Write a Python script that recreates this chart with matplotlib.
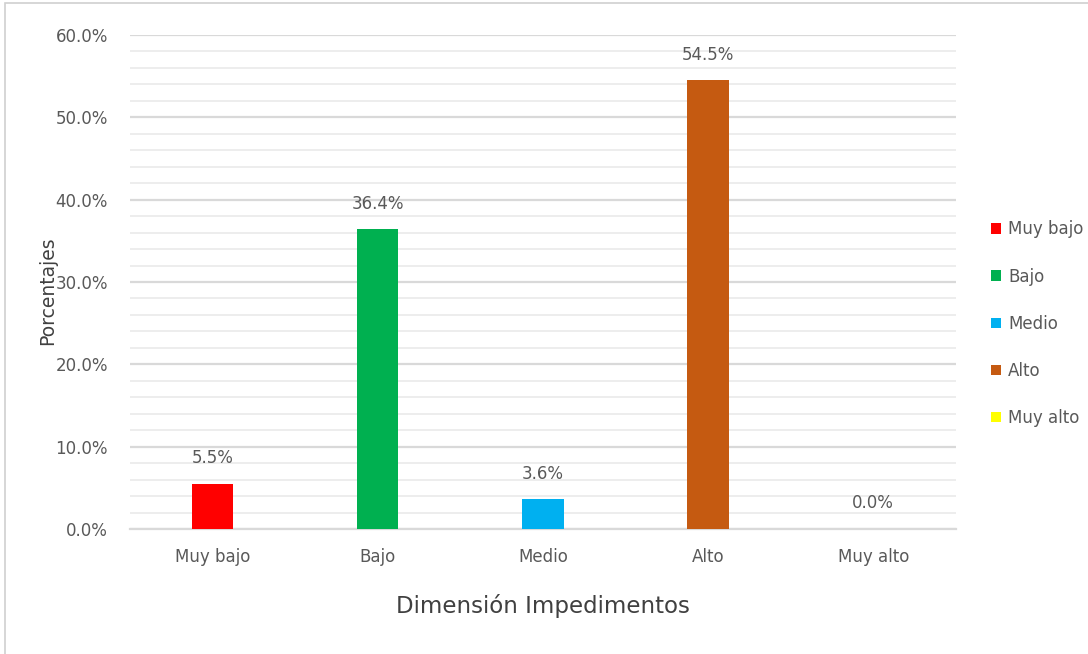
import matplotlib
matplotlib.use("Agg")
import matplotlib.pyplot as plt
from matplotlib.patches import Rectangle
from matplotlib.ticker import MultipleLocator, FuncFormatter

categories = ["Muy bajo", "Bajo", "Medio", "Alto", "Muy alto"]
values = [5.5, 36.4, 3.6, 54.5, 0.0]
colors = ["#FF0000", "#00B050", "#00B0F0", "#C55A11", "#FFFF00"]
value_labels = ["5.5%", "36.4%", "3.6%", "54.5%", "0.0%"]

FONT = ["DejaVu Sans"]
TXT = "#595959"

fig = plt.figure(figsize=(10.88, 6.54), dpi=100)
ax = fig.add_axes([0.1195, 0.1911, 0.7590, 0.7554])

bars = []
for i, (c, v, col) in enumerate(zip(categories, values, colors)):
    b = ax.bar(i, v, width=0.25, color=col, label=c, zorder=3)
    bars.append(b)
    ax.annotate(value_labels[i], (i, v), xytext=(0, 12), textcoords="offset points",
                ha="center", va="bottom", fontsize=12, color=TXT, family=FONT)

ax.set_xlim(-0.5, 4.5)
ax.set_ylim(0, 60)
ax.yaxis.set_major_locator(MultipleLocator(10))
ax.yaxis.set_minor_locator(MultipleLocator(2))
ax.yaxis.set_major_formatter(FuncFormatter(lambda v, p: f"{v:.1f}%"))
ax.grid(axis="y", which="major", color="#D9D9D9", linewidth=1.6, zorder=0)
ax.grid(axis="y", which="minor", color="#EDEDED", linewidth=1.4, zorder=0)
ax.set_xticks(range(len(categories)))
ax.set_xticklabels(categories)
for s in ["top", "right", "left"]:
    ax.spines[s].set_visible(False)
ax.spines["bottom"].set_color("#D9D9D9")
ax.spines["bottom"].set_linewidth(1.6)
ax.tick_params(axis="both", which="both", length=0, colors=TXT, labelsize=12)
ax.tick_params(axis="x", pad=14)
ax.tick_params(axis="y", pad=16)
for lbl in ax.get_xticklabels() + ax.get_yticklabels():
    lbl.set_family(FONT)

ax.set_xlabel("Dimensión Impedimentos", fontsize=16.5, color="#404040", family=FONT, labelpad=20)
fig.text(0.044, 0.556, "Porcentajes", rotation=90, ha="center", va="center",
         fontsize=13.5, color="#404040", family=["DejaVu Sans"])

handles = [b[0] for b in bars]
leg = fig.legend(handles, categories, loc="center left", bbox_to_anchor=(0.905, 0.505),
                 frameon=False, prop={"family": FONT, "size": 12},
                 handlelength=0.6, handleheight=0.6, handletextpad=0.4,
                 labelspacing=1.75, borderaxespad=0)
for t in leg.get_texts():
    t.set_color(TXT)

fig.patches.append(Rectangle((0.005, -0.01), 1.0, 1.005, transform=fig.transFigure,
                             fill=False, edgecolor="#D0D0D0", linewidth=1.2))

fig.savefig("out.png", dpi=100)
